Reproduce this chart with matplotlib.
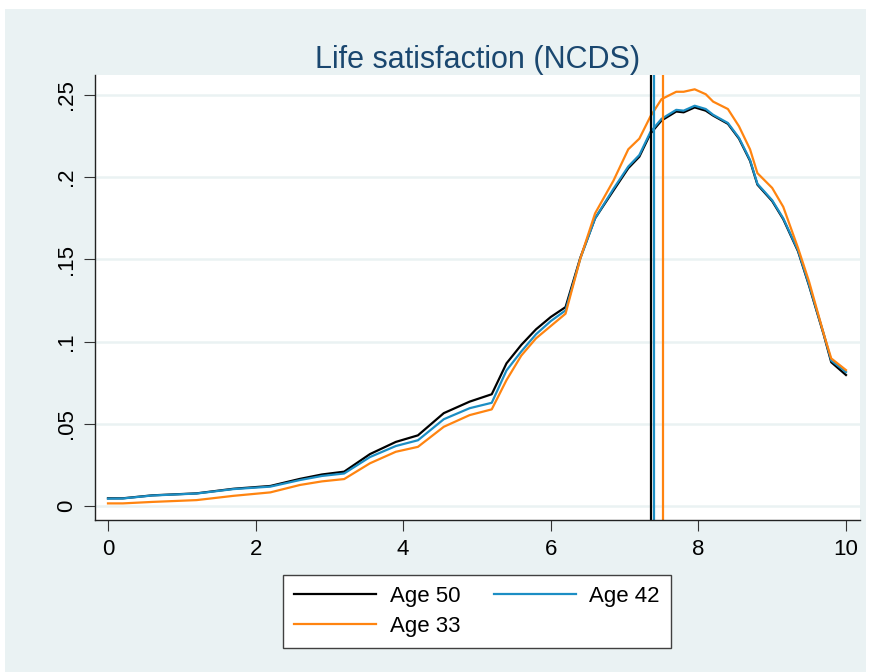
import matplotlib
matplotlib.use("Agg")
import matplotlib.pyplot as plt
from matplotlib.patches import Rectangle

plt.rcParams['font.family'] = ['Liberation Sans', 'DejaVu Sans']

# life satisfaction score (x) and estimated density for each age sweep
x = [0, 0.2, 0.6, 1.2, 1.7, 2.2, 2.6, 2.9, 3.2, 3.55, 3.9, 4.2, 4.55, 4.9, 5.2,
     5.4, 5.6, 5.8, 6.0, 6.2, 6.4, 6.6, 6.85, 7.05, 7.2, 7.35, 7.5, 7.7, 7.8,
     7.95, 8.1, 8.2, 8.4, 8.55, 8.7, 8.8, 9.0, 9.15, 9.35, 9.5, 9.7, 9.8, 10.0]

age50 = [0.0047, 0.0047, 0.0065, 0.0077, 0.0105, 0.0122, 0.0165, 0.0192, 0.0209,
         0.0316, 0.039, 0.043, 0.0565, 0.0635, 0.068, 0.0868, 0.098, 0.1075,
         0.115, 0.121, 0.151, 0.175, 0.192, 0.2055, 0.2125, 0.2265, 0.2345,
         0.240, 0.2395, 0.2425, 0.2405, 0.2375, 0.2325, 0.2235, 0.210, 0.1955,
         0.1855, 0.1745, 0.155, 0.134, 0.104, 0.0875, 0.0797]

age42 = [0.0045, 0.0046, 0.0064, 0.0076, 0.0103, 0.0118, 0.0158, 0.0183, 0.0198,
         0.0298, 0.0365, 0.040, 0.0528, 0.0595, 0.0628, 0.0825, 0.094, 0.1045,
         0.1125, 0.119, 0.1505, 0.175, 0.193, 0.2065, 0.2135, 0.2275, 0.2355,
         0.241, 0.2405, 0.2435, 0.2415, 0.238, 0.233, 0.224, 0.2105, 0.196,
         0.186, 0.175, 0.1555, 0.1345, 0.1045, 0.0885, 0.0815]

age33 = [0.0016, 0.0016, 0.0025, 0.0036, 0.0062, 0.0083, 0.0128, 0.015, 0.0164,
         0.026, 0.033, 0.036, 0.0482, 0.0553, 0.0588, 0.0766, 0.0915, 0.102,
         0.1095, 0.117, 0.1505, 0.178, 0.198, 0.217, 0.2235, 0.237, 0.2475,
         0.252, 0.252, 0.2535, 0.2505, 0.246, 0.2415, 0.231, 0.217, 0.2025,
         0.1935, 0.182, 0.157, 0.1365, 0.1045, 0.0898, 0.0827]

# mean life satisfaction per sweep (vertical reference lines)
means = {'Age 50': 7.36, 'Age 42': 7.40, 'Age 33': 7.52}

colors = {'Age 50': '#000000', 'Age 42': '#1C8EC4', 'Age 33': '#FF8410'}

yticks = [0, 0.05, 0.1, 0.15, 0.2, 0.25]
ytick_labels = ['0', '.05', '.1', '.15', '.2', '.25']
xticks = [0, 2, 4, 6, 8, 10]

bg = '#EAF2F3'

fig = plt.figure(figsize=(8.7, 6.72), dpi=100, facecolor='white')
fig.patches.append(Rectangle((5 / 870, 0), 861 / 870, 1 - 9 / 672,
                             transform=fig.transFigure, facecolor=bg,
                             edgecolor='none', zorder=-10))

ax = fig.add_axes([95 / 870, 1 - 520 / 672, 765 / 870, 445 / 672])
ax.set_facecolor('white')

series = {'Age 50': age50, 'Age 42': age42, 'Age 33': age33}
handles = {}
for name, ys in series.items():
    h, = ax.plot(x, ys, color=colors[name], lw=1.6, label=name)
    handles[name] = h
for name, m in means.items():
    ax.axvline(m, color=colors[name], lw=1.6)

ax.set_xlim(-0.176, 10.19)
ax.set_ylim(-0.0085, 0.2622)
ax.set_xticks(xticks)
ax.set_yticks(yticks)
ax.set_yticklabels(ytick_labels, rotation=90, va='center')
ax.tick_params(axis='both', direction='out', length=8, width=0.8,
               labelsize=16, color='#333333')
ax.tick_params(axis='y', pad=5)
ax.tick_params(axis='x', pad=6)
ax.yaxis.grid(True, color=bg, lw=1.8)
ax.set_axisbelow(True)
for s in ['top', 'right']:
    ax.spines[s].set_visible(False)
for s in ['left', 'bottom']:
    ax.spines[s].set_color('#222222')
    ax.spines[s].set_linewidth(1.0)

ax.set_title('Life satisfaction (NCDS)', fontsize=22, color='#1A476F', pad=5)

order = ['Age 50', 'Age 33', 'Age 42']
leg = fig.legend([handles[k] for k in order], order, ncol=2,
                 loc='lower left', mode='expand',
                 bbox_to_anchor=(283 / 870, 24 / 672, 388 / 870, 76 / 672),
                 fontsize=16, frameon=True, fancybox=False, framealpha=1,
                 edgecolor='#404040', handlelength=3.7, handletextpad=0.6,
                 labelspacing=0.4, borderpad=0.5, borderaxespad=0)
leg.get_frame().set_linewidth(1.0)

fig.savefig('out.png', dpi=100, facecolor=fig.get_facecolor())
